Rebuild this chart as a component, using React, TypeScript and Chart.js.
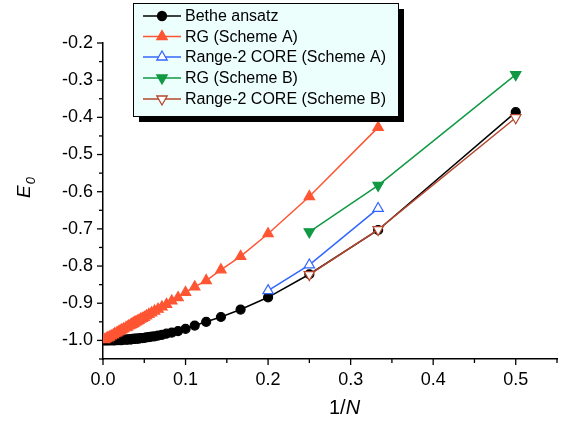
import { useEffect, useRef } from 'react';
import { Chart, registerables } from 'chart.js';
Chart.register(...registerables);

const FONT = '"Liberation Sans", Arial, Helvetica, sans-serif';

// Bethe ansatz (filled black circles)
const betheN = [2, 3, 4, 5, 6, 7, 8, 9, 10, 11, 12, 13, 14, 15, 16, 17, 18, 19, 20, 21, 22, 23, 24, 25, 26, 27, 28, 29, 30, 32, 34, 36, 40, 44, 48, 54, 60, 70, 80, 100, 130, 170, 250, 500];
const betheE = [-0.386, -0.703, -0.822, -0.884, -0.917, -0.937, -0.950, -0.960, -0.969, -0.975, -0.979, -0.982, -0.985, -0.987, -0.989, -0.990, -0.991, -0.992, -0.993, -0.994, -0.994, -0.995, -0.995, -0.995, -0.996, -0.996, -0.996, -0.997, -0.997, -0.997, -0.998, -0.998, -0.998, -0.999, -0.999, -0.999, -0.999, -1.0, -1.0, -1.0, -1.0, -1.0, -1.0, -1.0];

// RG (Scheme A)
const rgAN = [3, 4, 5, 6, 7, 8, 9, 10, 11, 12, 13, 14, 15, 16, 17, 18, 19, 20, 21, 22, 23, 24, 25, 26, 27, 28, 29, 30, 32, 34, 36, 40, 44, 48, 54, 60, 70, 80, 100, 130, 170, 250, 500];
const rgAE = [-0.427, -0.613, -0.713, -0.774, -0.810, -0.839, -0.856, -0.871, -0.885, -0.894, -0.903, -0.910, -0.916, -0.921, -0.926, -0.930, -0.934, -0.938, -0.941, -0.943, -0.946, -0.948, -0.950, -0.952, -0.954, -0.956, -0.957, -0.959, -0.961, -0.964, -0.966, -0.969, -0.972, -0.974, -0.977, -0.980, -0.982, -0.985, -0.988, -0.991, -0.993, -0.995, -0.998];

// Range-2 CORE (Scheme A)
const coreAN = [3, 4, 5];
const coreAE = [-0.645, -0.797, -0.866];

// RG (Scheme B)
const rgBN = [2, 3, 4];
const rgBE = [-0.285, -0.583, -0.708];

// Range-2 CORE (Scheme B)
const coreBN = [2, 3, 4];
const coreBE = [-0.401, -0.702, -0.823];

const xTickValues = [0, 0.05, 0.1, 0.15, 0.2, 0.25, 0.3, 0.35, 0.4, 0.45, 0.5, 0.55];
const yTickValues = [-1.05, -1.0, -0.95, -0.9, -0.85, -0.8, -0.75, -0.7, -0.65, -0.6, -0.55, -0.5, -0.45, -0.4, -0.35, -0.3, -0.25, -0.2];

const seriesLabels = ['Bethe ansatz', 'RG (Scheme A)', 'Range-2 CORE (Scheme A)', 'RG (Scheme B)', 'Range-2 CORE (Scheme B)'];
const seriesColors = ['#000000', '#ff5533', '#3366ff', '#119944', '#b5472f'];
const seriesMarkers = ['circle', 'up', 'up', 'down', 'down'];
const seriesFilled = [true, true, false, true, false];

const isMajor = (v: number) => Math.abs(Math.round(v * 100)) % 10 === 0;

function drawMarker(ctx: CanvasRenderingContext2D, kind: string, x: number, y: number, r: number, fill: string, stroke: string) {
  ctx.beginPath();
  if (kind === 'circle') {
    ctx.arc(x, y, r, 0, Math.PI * 2);
  } else {
    const s = kind === 'up' ? 1 : -1;
    ctx.moveTo(x, y - s * r);
    ctx.lineTo(x + r * 0.866, y + s * r * 0.5);
    ctx.lineTo(x - r * 0.866, y + s * r * 0.5);
    ctx.closePath();
  }
  ctx.fillStyle = fill;
  ctx.fill();
  ctx.strokeStyle = stroke;
  ctx.lineWidth = 1.3;
  ctx.stroke();
}

const decorPlugin = {
  id: 'decor',
  afterDraw(chart: any) {
    const ctx: CanvasRenderingContext2D = chart.ctx;
    const xs = chart.scales.x;
    const ys = chart.scales.y;
    const area = chart.chartArea;
    ctx.save();
    ctx.strokeStyle = '#000';
    ctx.lineWidth = 1.3;
    // tick marks
    xTickValues.forEach((v) => {
      const px = xs.getPixelForValue(v);
      const len = isMajor(v) ? 6 : 4;
      ctx.beginPath();
      ctx.moveTo(px, area.bottom);
      ctx.lineTo(px, area.bottom + len);
      ctx.stroke();
    });
    yTickValues.forEach((v) => {
      const py = ys.getPixelForValue(v);
      const len = isMajor(v) ? 6 : 4;
      ctx.beginPath();
      ctx.moveTo(area.left, py);
      ctx.lineTo(area.left - len, py);
      ctx.stroke();
    });

    // axis titles
    ctx.fillStyle = '#000';
    ctx.textBaseline = 'alphabetic';
    ctx.textAlign = 'left';
    ctx.font = `20px ${FONT}`;
    const t1 = '1/';
    const w1 = ctx.measureText(t1).width;
    ctx.fillText(t1, 329, 414);
    ctx.font = `italic 20px ${FONT}`;
    ctx.fillText('N', 329 + w1, 414);

    ctx.save();
    ctx.translate(30, 198);
    ctx.rotate(-Math.PI / 2);
    ctx.font = `italic 19px ${FONT}`;
    ctx.fillText('E', 0, 0);
    const we = ctx.measureText('E').width;
    ctx.font = `italic 13px ${FONT}`;
    ctx.fillText('0', we + 1, 5);
    ctx.restore();

    // legend box with shadow
    const bx = 133, by = 3, bw = 265, bh = 113;
    ctx.fillStyle = '#000';
    ctx.fillRect(bx + 6, by + 6, bw, bh);
    ctx.fillStyle = '#edfffc';
    ctx.fillRect(bx, by, bw, bh);
    ctx.strokeStyle = '#000';
    ctx.lineWidth = 1;
    ctx.strokeRect(bx + 0.5, by + 0.5, bw, bh);

    const rowY = [16, 36.5, 57, 78, 99];
    seriesLabels.forEach((lab, i) => {
      const y = rowY[i];
      const c = seriesColors[i];
      ctx.strokeStyle = c;
      ctx.lineWidth = 1.5;
      ctx.beginPath();
      ctx.moveTo(143, y);
      ctx.lineTo(181, y);
      ctx.stroke();
      const r = seriesMarkers[i] === 'circle' ? 4.5 : 6;
      drawMarker(ctx, seriesMarkers[i], 162, y, r, seriesFilled[i] ? c : '#ffffff', c);
      ctx.fillStyle = '#000';
      ctx.font = `16px ${FONT}`;
      ctx.textBaseline = 'middle';
      ctx.textAlign = 'left';
      ctx.fillText(lab, 185, y + 1);
    });
    ctx.restore();
  },
};

const toPoints = (ns: number[], es: number[]) => ns.map((n, i) => ({ x: 1 / n, y: es[i] }));

export default function App() {
  const ref = useRef<HTMLCanvasElement | null>(null);
  useEffect(() => {
    if (!ref.current) return;
    const mk = (i: number, ns: number[], es: number[], order: number) => {
      const c = seriesColors[i];
      const m = seriesMarkers[i];
      return {
        label: seriesLabels[i],
        data: toPoints(ns, es),
        showLine: true,
        borderColor: c,
        borderWidth: 1.5,
        backgroundColor: seriesFilled[i] ? c : '#ffffff',
        pointBackgroundColor: seriesFilled[i] ? c : '#ffffff',
        pointBorderColor: c,
        pointBorderWidth: 1.2,
        pointStyle: m === 'circle' ? 'circle' : 'triangle',
        pointRotation: m === 'down' ? 180 : 0,
        pointRadius: m === 'circle' ? 4.5 : 6,
        pointHoverRadius: m === 'circle' ? 4.5 : 6,
        tension: 0,
        order,
      };
    };
    const chart = new Chart(ref.current, {
      type: 'scatter',
      data: {
        datasets: [
          mk(0, betheN, betheE, 10),
          mk(1, rgAN, rgAE, 8),
          mk(2, coreAN, coreAE, 6),
          mk(3, rgBN, rgBE, 4),
          mk(4, coreBN, coreBE, 2),
        ] as any,
      },
      options: {
        animation: false,
        responsive: false,
        devicePixelRatio: 1,
        layout: { padding: { top: 43, right: 6, left: 0, bottom: 0 } },
        plugins: { legend: { display: false }, tooltip: { enabled: false } },
        scales: {
          x: {
            type: 'linear',
            min: 0,
            max: 0.55,
            afterFit: (s: any) => { s.height = 69; },
            afterBuildTicks: (s: any) => { s.ticks = xTickValues.map((v) => ({ value: v })); },
            grid: { display: false, drawTicks: false },
            border: { display: true, color: '#000', width: 1.5 },
            ticks: {
              autoSkip: false,
              maxRotation: 0,
              padding: 10,
              color: '#000',
              font: { family: FONT, size: 18 },
              callback: (v: any) => (isMajor(Number(v)) ? Number(v).toFixed(1) : ''),
            },
          },
          y: {
            type: 'linear',
            min: -1.05,
            max: -0.2,
            afterFit: (s: any) => { s.width = 103; },
            afterBuildTicks: (s: any) => { s.ticks = yTickValues.map((v) => ({ value: v })); },
            grid: { display: false, drawTicks: false },
            border: { display: true, color: '#000', width: 1.5 },
            ticks: {
              autoSkip: false,
              padding: 10,
              color: '#000',
              font: { family: FONT, size: 18 },
              callback: (v: any) => (isMajor(Number(v)) ? Number(v).toFixed(1) : ''),
            },
          },
        },
      } as any,
      plugins: [decorPlugin],
    });
    return () => chart.destroy();
  }, []);
  return (
    <div style={{ position: 'absolute', left: 0, top: 0, width: 567, height: 428, background: '#fff' }}>
      <canvas ref={ref} width={567} height={428} style={{ display: 'block', width: 567, height: 428 }} />
    </div>
  );
}
